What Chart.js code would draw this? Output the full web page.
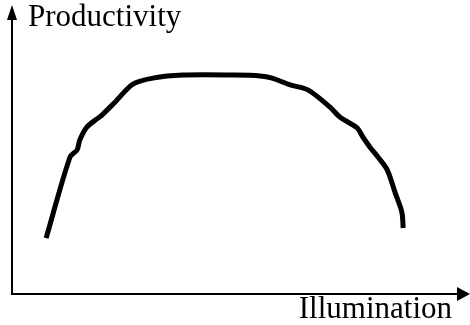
<!DOCTYPE html>
<html>
<head>
<meta charset="utf-8">
<script src="https://cdn.jsdelivr.net/npm/chart.js@4/dist/chart.umd.min.js"></script>
<style>
  html, body { margin: 0; padding: 0; background: #fff; }
  #wrap { width: 470px; height: 325px; position: relative; }
</style>
</head>
<body>
<div id="wrap"><canvas id="c" width="470" height="325"></canvas></div>
<script>
// Data (arbitrary units, 0-100 on each axis)
const illumination = [7.7, 13.1, 14.7, 15.3, 16.9, 19.4, 20.3, 23.3, 27.3, 31.8, 38.6, 50.3, 56.0, 58.7, 62.8, 66.8, 71.8, 74.0, 77.9, 79.2, 80.8, 82.6, 84.7, 86.5, 88.0, 88.3];
const productivity = [20.4, 50.0, 52.6, 56.2, 60.9, 64.2, 65.3, 70.1, 76.6, 78.8, 79.9, 79.9, 79.6, 78.8, 76.3, 74.5, 68.2, 64.6, 60.6, 57.3, 53.6, 50.0, 45.3, 36.9, 29.9, 24.1];
const yAxisLabel = "Productivity";
const xAxisLabel = "Illumination";

const points = illumination.map((x, i) => ({ x: x, y: productivity[i] }));

const axesPlugin = {
  id: 'arrowAxes',
  afterDatasetsDraw(chart) {
    const ctx = chart.ctx;
    const xs = chart.scales.x, ys = chart.scales.y;
    const ox = xs.getPixelForValue(0);
    const oy = ys.getPixelForValue(0);
    const top = ys.getPixelForValue(100);
    const right = xs.getPixelForValue(100);
    ctx.save();
    ctx.strokeStyle = '#000';
    ctx.fillStyle = '#000';
    ctx.lineWidth = 2;
    // y axis
    ctx.beginPath();
    ctx.moveTo(ox, oy);
    ctx.lineTo(ox, top - 1);
    ctx.stroke();
    ctx.beginPath();
    ctx.moveTo(ox, top - 15);
    ctx.lineTo(ox - 5, top);
    ctx.lineTo(ox + 5, top);
    ctx.closePath();
    ctx.fill();
    // x axis
    ctx.beginPath();
    ctx.moveTo(ox - 1, oy);
    ctx.lineTo(right + 3, oy);
    ctx.stroke();
    ctx.beginPath();
    ctx.moveTo(right + 15, oy);
    ctx.lineTo(right + 2, oy - 7);
    ctx.lineTo(right + 2, oy + 7);
    ctx.closePath();
    ctx.fill();
    // labels
    ctx.font = '31px "Liberation Serif", "Times New Roman", serif';
    ctx.textBaseline = 'alphabetic';
    ctx.textAlign = 'left';
    ctx.fillText(yAxisLabel, ox + 16, top + 6);
    ctx.textAlign = 'right';
    ctx.fillText(xAxisLabel, right - 3, oy + 24);
    ctx.restore();
  }
};

new Chart(document.getElementById('c'), {
  type: 'line',
  data: {
    datasets: [{
      data: points,
      borderColor: '#000',
      borderWidth: 5,
      pointRadius: 0,
      tension: 0.3,
      borderCapStyle: 'butt',
      borderJoinStyle: 'round',
      fill: false
    }]
  },
  options: {
    responsive: false,
    animation: false,
    layout: { padding: { left: 12, top: 20, right: 15, bottom: 31 } },
    plugins: { legend: { display: false }, tooltip: { enabled: false } },
    scales: {
      x: { type: 'linear', min: 0, max: 100, display: false },
      y: { type: 'linear', min: 0, max: 100, display: false }
    }
  },
  plugins: [axesPlugin]
});
</script>
</body>
</html>
